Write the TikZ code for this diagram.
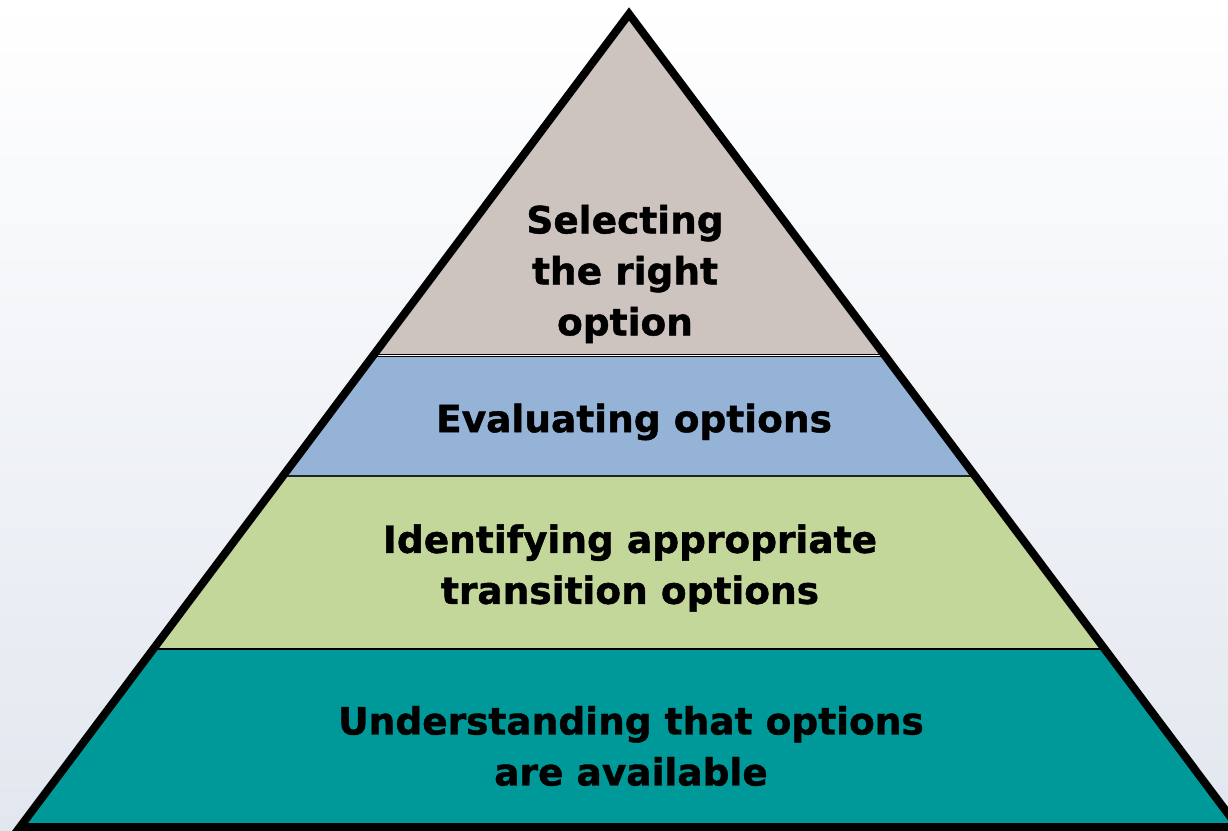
\documentclass[tikz,border=0pt]{standalone}
\usepackage{fontspec}
\setmainfont{DejaVu Sans}[BoldFeatures={FakeBold=1.2}]
\usetikzlibrary{calc}
\definecolor{bgtop}{RGB}{255,255,255}
\definecolor{bgbottom}{RGB}{226,231,239}
\definecolor{toptier}{RGB}{205,196,192}
\definecolor{bluetier}{RGB}{149,179,215}
\definecolor{greentier}{RGB}{196,215,155}
\definecolor{tealtier}{RGB}{0,153,153}
\tikzset{
  tierlabel/.style={font=\bfseries\fontsize{37.5}{51}\selectfont, align=center, text=black, inner sep=0pt},
  divider/.style={line width=1.5pt, black},
  outline/.style={line width=8pt, black, line join=miter, miter limit=10}
}
\begin{document}
\begin{tikzpicture}[x=1pt,y=-1pt]
  % page and background
  \useasboundingbox (0,0) rectangle (1228,830);
  \shade[top color=bgtop, bottom color=bgbottom] (0,0) rectangle (1228,830);
  \clip (0,0) rectangle (1228,830);

  % pyramid corners
  \coordinate (apex) at (629,14);
  \coordinate (bl) at (20,827);
  \coordinate (br) at (1238,827);

  % tiers
  \begin{scope}
    \clip (apex) -- (bl) -- (br) -- cycle;
    \fill[toptier]   (0,0)   rectangle (1300,355);
    \fill[bluetier]  (0,355) rectangle (1300,476);
    \fill[greentier] (0,476) rectangle (1300,649);
    \fill[tealtier]  (0,649) rectangle (1300,830);
    \draw[line width=3pt, black] (0,355) -- (1300,355);
    \draw[line width=1pt, white] (0,355) -- (1300,355);
    \draw[divider, black!80!bluetier] (0,476) -- (1300,476);
    \draw[divider] (0,649) -- (1300,649);
  \end{scope}

  % outline
  \draw[outline] (apex) -- (bl) -- (br) -- cycle;

  % labels
  \node[tierlabel] (select) at (625,274) {Selecting\\the right\\option};
  \node[tierlabel] (evaluate) at (634,422) {Evaluating options};
  \node[tierlabel] (identify) at (630,568) {Identifying appropriate\\transition options};
  \node[tierlabel] (understand) at (631,746) {Understanding that options\\are available};
\end{tikzpicture}
\end{document}
